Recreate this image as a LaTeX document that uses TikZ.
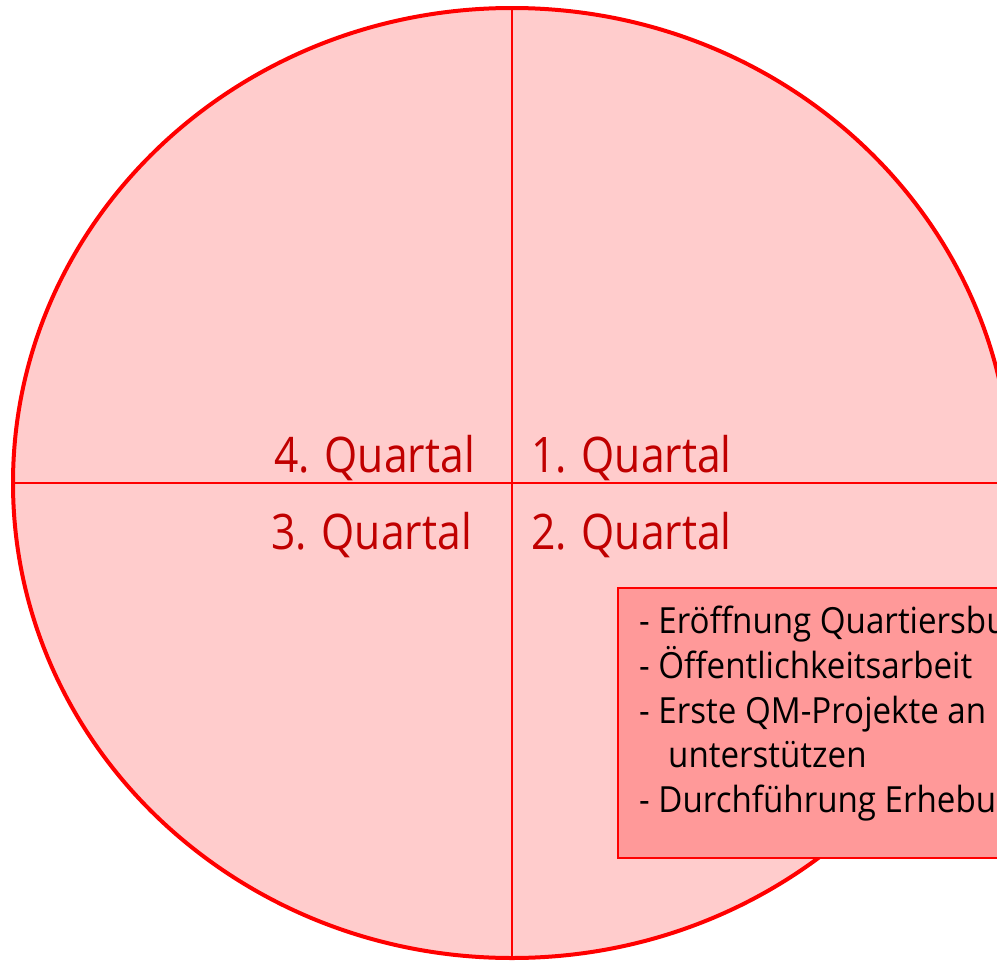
\documentclass[tikz,border=0pt]{standalone}
\usepackage{fontspec}
\setmainfont{Open Sans}
\newfontfamily\qfont[FakeStretch=0.87]{Open Sans}
\newfontfamily\bfont[FakeStretch=0.92]{Open Sans}
\usetikzlibrary{shapes.geometric}
\definecolor{ringred}{HTML}{FF0000}
\definecolor{pinkfill}{HTML}{FFCCCC}
\definecolor{boxfill}{HTML}{FF9999}
\definecolor{qtext}{HTML}{C00000}
\tikzset{
  quarter/.style={text=qtext, inner sep=0pt, font=\qfont\fontsize{49}{55}\selectfont},
  boxline/.style={text=black, inner sep=0pt, anchor=base west, font=\bfont\fontsize{36}{45}\selectfont},
  divider/.style={draw=ringred, line width=2pt}
}
\begin{document}
\begin{tikzpicture}[x=1pt,y=-1pt]
\useasboundingbox (0,0) rectangle (997,961);
\clip (0,0) rectangle (997,961);
\node[ellipse, draw=ringred, fill=pinkfill, line width=4pt, inner sep=0pt,
      minimum width=998pt, minimum height=950pt] (c) at (512,483) {};
\draw[divider] (c.north) -- (c.south);
\draw[divider] (c.west) -- (c.east);
\node[quarter, anchor=base east] (q4) at (475,472) {4. Quartal};
\node[quarter, anchor=base west] (q1) at (531,472) {1. Quartal};
\node[quarter, anchor=base east] (q3) at (472,549) {3. Quartal};
\node[quarter, anchor=base west] (q2) at (531,549) {2. Quartal};
\node[draw=ringred, fill=boxfill, line width=1.5pt, inner sep=0pt, anchor=north west,
      minimum width=600pt, minimum height=270pt] (box) at (617,587) {};
\node[boxline] (l1) at (639,633) {- Eröffnung Quartiersbu};
\node[boxline] (l2) at (639,678) {- Öffentlichkeitsarbeit};
\node[boxline] (l3) at (639,723) {- Erste QM-Projekte an};
\node[boxline] (l4) at (668,767) {unterstützen};
\node[boxline] (l5) at (639,812) {- Durchführung Erhebu};
\end{tikzpicture}
\end{document}
